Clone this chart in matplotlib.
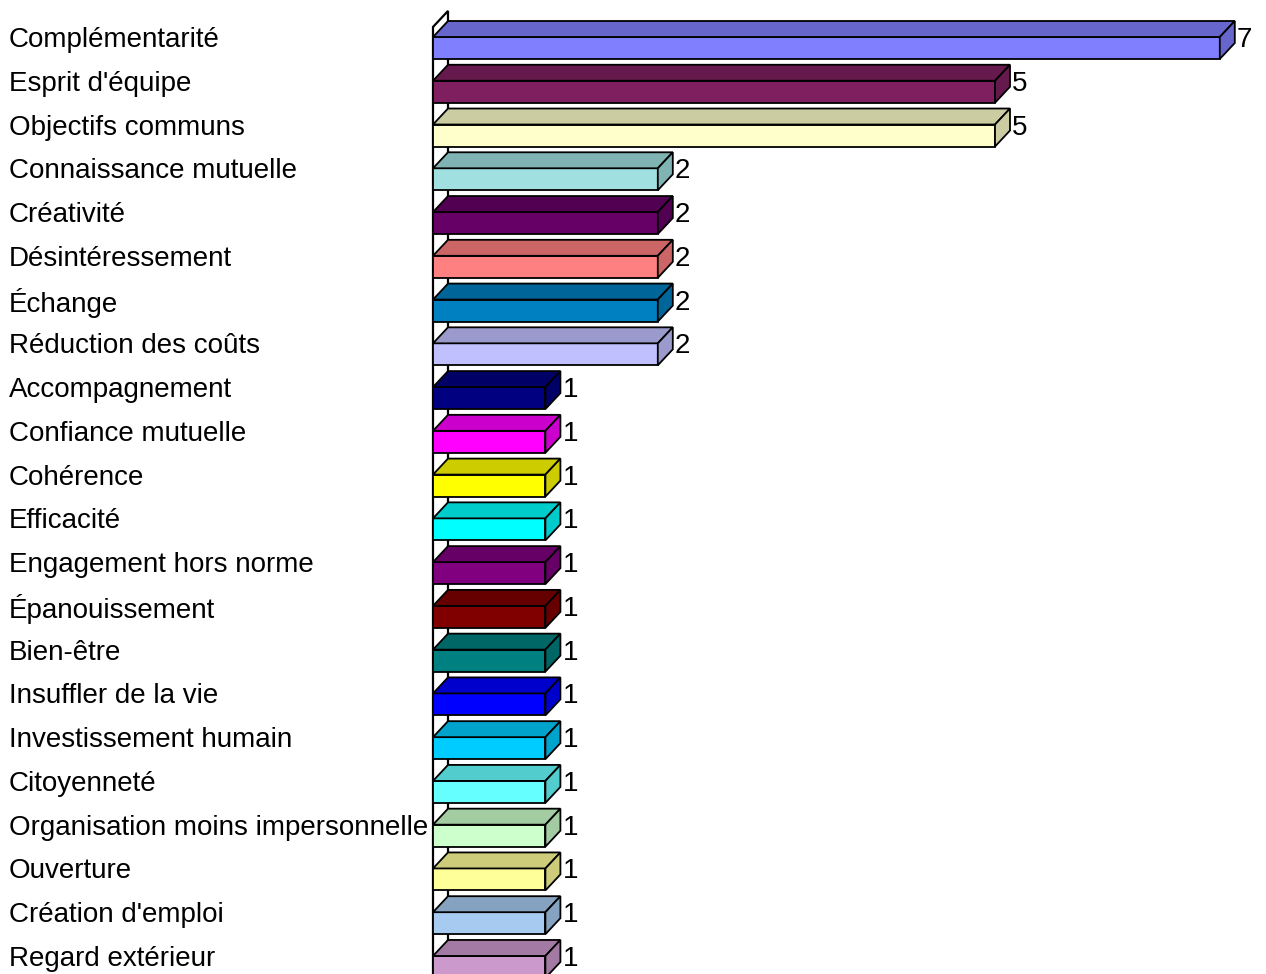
import matplotlib
matplotlib.use("Agg")
import matplotlib.pyplot as plt
import matplotlib.transforms as mtransforms
from matplotlib.patches import Polygon
from matplotlib.colors import to_rgb

categories = ["Complémentarité", "Esprit d'équipe", "Objectifs communs",
              "Connaissance mutuelle", "Créativité", "Désintéressement",
              "Échange", "Réduction des coûts", "Accompagnement",
              "Confiance mutuelle", "Cohérence", "Efficacité",
              "Engagement hors norme", "Épanouissement", "Bien-être",
              "Insuffler de la vie", "Investissement humain", "Citoyenneté",
              "Organisation moins impersonnelle", "Ouverture",
              "Création d'emploi", "Regard extérieur"]
values = [7, 5, 5, 2, 2, 2, 2, 2, 1, 1, 1, 1, 1, 1, 1, 1, 1, 1, 1, 1, 1, 1]
colors = ["#8080FF", "#7F1F5F", "#FFFFCC", "#A0E0E0", "#660066", "#FF8080",
          "#0080C0", "#C0C0FF", "#000080", "#FF00FF", "#FFFF00", "#00FFFF",
          "#800080", "#800000", "#008080", "#0000FF", "#00CCFF", "#66FFFF",
          "#CCFFCC", "#FFFF99", "#A6CAF0", "#CC99CC"]

W, H = 1266, 974
X0, XSCALE = 433, 112.4       # pixel of value 0, pixels per unit
Y0, YSTEP = 37, 43.76         # pixel of first row, pixels per row
DX = 15 / XSCALE              # 3D depth in data units
DY = -16 / YSTEP
BAR_H = 22 / YSTEP


def shade(c, f=0.8):
    r, g, b = to_rgb(c)
    return (r * f, g * f, b * f)


fig = plt.figure(figsize=(W / 100, H / 100), dpi=100)
ax = fig.add_axes([0, 0, 1, 1])
ax.set_xlim(-X0 / XSCALE, (W - X0) / XSCALE)
ax.set_ylim((H - Y0) / YSTEP, -Y0 / YSTEP)
ax.axis("off")

rows = list(range(len(categories)))
lw = 1.3

# left wall
top = -0.23
bot = len(categories) + 1
ax.add_patch(Polygon([(0, bot), (0, top), (DX, top + DY), (DX, bot + DY)],
                     closed=True, facecolor="white", edgecolor="black",
                     linewidth=1.6, zorder=1))

ax.barh(rows, values, height=BAR_H, align="edge", color=colors,
        edgecolor="black", linewidth=lw, zorder=3)

for i, (v, c) in enumerate(zip(values, colors)):
    dark = shade(c)
    ax.add_patch(Polygon([(0, i), (v, i), (v + DX, i + DY), (DX, i + DY)],
                         closed=True, facecolor=dark, edgecolor="black",
                         linewidth=lw, zorder=3))
    ax.add_patch(Polygon([(v, i), (v, i + BAR_H), (v + DX, i + BAR_H + DY),
                          (v + DX, i + DY)],
                         closed=True, facecolor=dark, edgecolor="black",
                         linewidth=lw, zorder=3))
    ax.text(v + DX + 0.02, i, str(v), ha="left", va="center_baseline",
            fontsize=20, family="Liberation Sans", zorder=4)

trans = mtransforms.blended_transform_factory(fig.transFigure, ax.transData)
for i, name in enumerate(categories):
    ax.text(9 / W, i, name, transform=trans, ha="left", va="center_baseline",
            fontsize=20, family="Liberation Sans", zorder=5)

fig.savefig("out.png", dpi=100)
